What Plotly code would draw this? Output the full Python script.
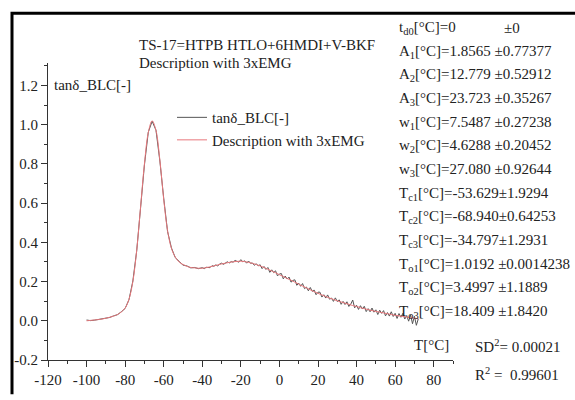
import plotly.graph_objects as go

# ---- measured loss factor tan(delta) after baseline correction ----
meas_t = list(range(-100, -40, 2)) + list(range(-40, 73))
meas_v = [
    0.004, 0.001, 0.003, 0.007, 0.008, 0.014, 0.017, 0.025, 0.031, 0.046,
    0.063, 0.108, 0.203, 0.357, 0.585, 0.795, 0.962, 1.018, 0.972, 0.815,
    0.625, 0.455, 0.372, 0.322, 0.303, 0.284, 0.280, 0.270, 0.272, 0.266,
    # -40 .. 72 in 1 degC steps
    0.271, 0.266, 0.273, 0.273, 0.271, 0.281, 0.278, 0.285, 0.280, 0.289,
    0.294, 0.288, 0.295, 0.301, 0.295, 0.302, 0.299, 0.308, 0.303, 0.299,
    0.312, 0.301, 0.306, 0.294, 0.305, 0.293, 0.295, 0.283, 0.291, 0.280,
    0.286, 0.266, 0.277, 0.262, 0.272, 0.247, 0.260, 0.246, 0.255, 0.229,
    0.239, 0.241, 0.214, 0.228, 0.213, 0.223, 0.197, 0.206, 0.209, 0.181,
    0.192, 0.176, 0.190, 0.164, 0.172, 0.153, 0.170, 0.150, 0.157, 0.133,
    0.146, 0.146, 0.121, 0.133, 0.116, 0.132, 0.110, 0.116, 0.099, 0.117,
    0.098, 0.107, 0.084, 0.099, 0.083, 0.097, 0.073, 0.085, 0.106, 0.066,
    0.079, 0.058, 0.077, 0.060, 0.074, 0.047, 0.062, 0.046, 0.065, 0.044,
    0.056, 0.032, 0.054, 0.038, 0.052, 0.025, 0.042, 0.024, 0.046, 0.022,
    0.038, 0.012, 0.037, 0.018, 0.038, 0.009, 0.027, -0.002, 0.030, -0.015,
    0.023, -0.023, 0.010,
]

# ---- fitted curve (sum of three exponentially modified Gaussians) ----
fit_t = list(range(-100, 73, 2))
fit_v = [
    0.000, 0.002, 0.004, 0.006, 0.009, 0.013, 0.018, 0.024, 0.032, 0.045,
    0.065, 0.110, 0.200, 0.360, 0.580, 0.800, 0.960, 1.020, 0.970, 0.820,
    0.620, 0.460, 0.370, 0.325, 0.300, 0.287, 0.278, 0.272, 0.270, 0.268,
    0.268, 0.271, 0.275, 0.280, 0.285, 0.290, 0.294, 0.298, 0.301, 0.303,
    0.304, 0.302, 0.298, 0.293, 0.287, 0.280, 0.272, 0.263, 0.254, 0.245,
    0.235, 0.226, 0.216, 0.207, 0.197, 0.187, 0.177, 0.168, 0.158, 0.149,
    0.140, 0.132, 0.124, 0.116, 0.109, 0.102, 0.096, 0.090, 0.084, 0.078,
    0.073, 0.067, 0.062, 0.057, 0.052, 0.048, 0.044, 0.040, 0.036, 0.032,
    0.028, 0.025, 0.022, 0.019, 0.016, 0.013, 0.010,
]

# ---- axis ticks (hyphen minus, as printed) ----
x_tick_vals = [-120, -100, -80, -60, -40, -20, 0, 20, 40, 60, 80]
x_tick_text = ["-120", "-100", "-80", "-60", "-40", "-20", "0", "20", "40", "60", "80"]
y_tick_vals = [-0.2, 0.0, 0.2, 0.4, 0.6, 0.8, 1.0, 1.2]
y_tick_text = ["-0.2", "0.0", "0.2", "0.4", "0.6", "0.8", "1.0", "1.2"]

# ---- fit parameters shown beside the plot ----
param_rows = [
    "t<sub>d0</sub>[°C]=0",
    "A<sub>1</sub>[°C]=1.8565 ±0.77377",
    "A<sub>2</sub>[°C]=12.779 ±0.52912",
    "A<sub>3</sub>[°C]=23.723 ±0.35267",
    "w<sub>1</sub>[°C]=7.5487 ±0.27238",
    "w<sub>2</sub>[°C]=4.6288 ±0.20452",
    "w<sub>3</sub>[°C]=27.080 ±0.92644",
    "T<sub>c1</sub>[°C]=-53.629±1.9294",
    "T<sub>c2</sub>[°C]=-68.940±0.64253",
    "T<sub>c3</sub>[°C]=-34.797±1.2931",
    "T<sub>o1</sub>[°C]=1.0192 ±0.0014238",
    "T<sub>o2</sub>[°C]=3.4997 ±1.1889",
    "T<sub>o3</sub>[°C]=18.409 ±1.8420",
]
sd2_text = "SD<sup>2</sup>= 0.00021"
r2_text = "R<sup>2</sup> =  0.99601"

FONT = "Liberation Serif, Times New Roman, serif"
INK = "#222222"
AX = "#333333"

W, H = 575, 400
PL, PR, PT, PB = 48, 453, 63, 367


def px(x):
    return (x - PL) / (PR - PL)


def py(y):
    return (PB - y) / (PB - PT)


fig = go.Figure()
fig.add_trace(go.Scatter(
    x=meas_t, y=meas_v, mode="lines", name="tanδ_BLC[-]",
    line=dict(color="#555555", width=1),
))
fig.add_trace(go.Scatter(
    x=fit_t, y=fit_v, mode="lines", name="Description with 3xEMG",
    line=dict(color="#e8787c", width=1, shape="spline"),
))

annotations = []


def label(x, y, text, size=15):
    annotations.append(dict(
        x=px(x), y=py(y), xref="paper", yref="paper", text=text,
        showarrow=False, xanchor="left", yanchor="middle",
        font=dict(family=FONT, size=size, color=INK),
    ))


label(137, 45, "TS-17=HTPB HTLO+6HMDI+V-BKF")
label(137, 63, "Description with 3xEMG")
label(52, 86, "tanδ_BLC[-]")

for i, row in enumerate(param_rows):
    label(397, 27 + 24.25 * i, row)
label(502, 27, "±0")

label(412, 352, "T[°C]")
label(473, 353, sd2_text)
label(473, 381, r2_text)

# frame along the top and left edges of the figure
frame = dict(
    type="path", xref="paper", yref="paper",
    path=f"M {px(12)},{py(402)} L {px(12)},{py(12)} L {px(578)},{py(12)}",
    line=dict(color="#000000", width=3),
)

axis_common = dict(
    showline=True, linecolor=AX, linewidth=1, mirror=False,
    showgrid=False, zeroline=False,
    ticks="outside", ticklen=6, tickwidth=1, tickcolor=AX,
    tickfont=dict(family=FONT, size=15, color=INK),
    tickmode="array",
)

fig.update_layout(
    width=W, height=H,
    margin=dict(l=PL, r=W - PR, t=PT, b=H - PB, pad=0),
    paper_bgcolor="white", plot_bgcolor="white",
    xaxis=dict(
        range=[-120, 90], tickvals=x_tick_vals, ticktext=x_tick_text,
        minor=dict(tickmode="linear", tick0=-120, dtick=10, ticklen=3,
                   ticks="outside", tickcolor=AX),
        **axis_common,
    ),
    yaxis=dict(
        range=[-0.2, 1.315], tickvals=y_tick_vals, ticktext=y_tick_text,
        minor=dict(tickmode="linear", tick0=-0.2, dtick=0.1, ticklen=3,
                   ticks="outside", tickcolor=AX),
        **axis_common,
    ),
    legend=dict(
        x=px(172), y=py(102), xanchor="left", yanchor="top",
        bgcolor="rgba(0,0,0,0)", borderwidth=0, tracegroupgap=0,
        font=dict(family=FONT, size=15, color=INK),
        itemwidth=30,
    ),
    annotations=annotations,
    shapes=[frame],
)

fig.write_html("out.html")
